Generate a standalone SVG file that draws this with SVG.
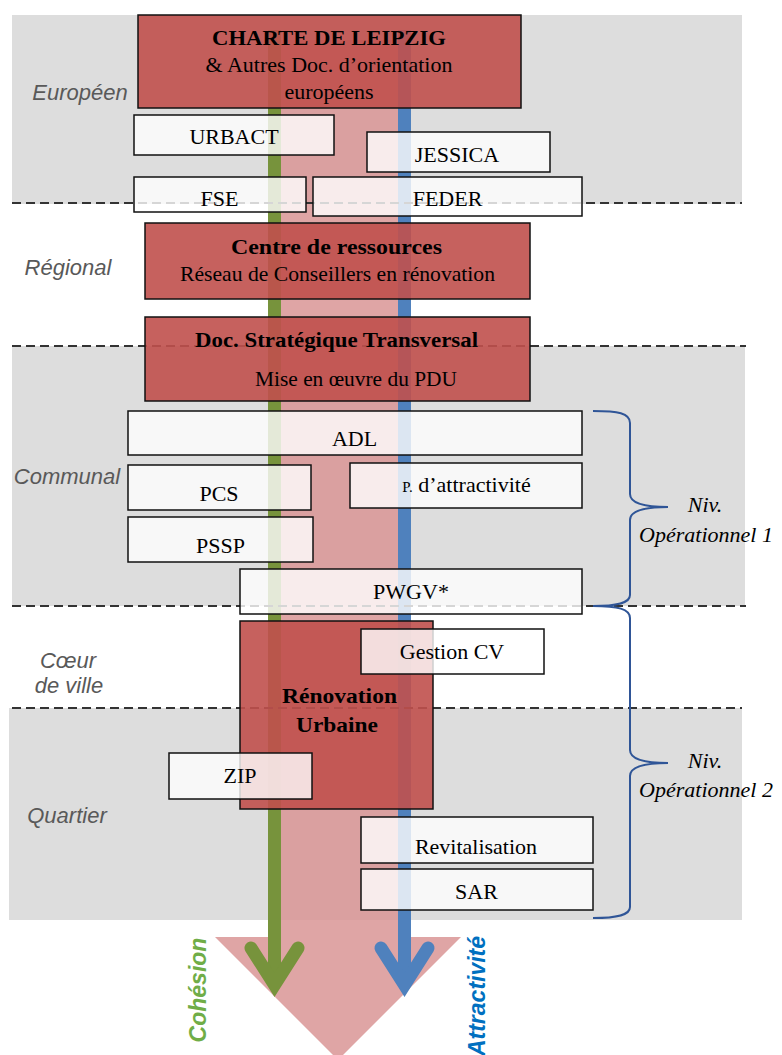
<svg xmlns="http://www.w3.org/2000/svg" width="782" height="1055" viewBox="0 0 782 1055">
<style>
.band{fill:#DDDDDD}
.dash{stroke:#333;stroke-width:2;stroke-dasharray:9 5;fill:none}
.red{fill:#C0504D;fill-opacity:0.9;stroke:#111;stroke-width:1.5}
.wht{fill:#FFFFFF;fill-opacity:0.8;stroke:#111;stroke-width:1.5}
.t{font-family:"Liberation Serif","Times New Roman",serif;font-size:22px;fill:#000;text-anchor:middle}
.b{font-weight:bold}
.lvl{font-family:"Liberation Sans",Arial,sans-serif;font-style:italic;font-size:22px;fill:#595959;text-anchor:middle}
.niv{font-family:"Liberation Serif","Times New Roman",serif;font-style:italic;font-size:22px;fill:#000;text-anchor:middle}
.brace{fill:none;stroke:#2F5597;stroke-width:2}
</style>
<rect width="782" height="1055" fill="#FFFFFF"/>
<g id="bands">
<rect class="band" x="12" y="15" width="730" height="189"/>
<rect class="band" x="12" y="346" width="733" height="260"/>
<rect class="band" x="9" y="708" width="733" height="212"/>
</g>
<g id="flow">
<path d="M274,40 L405,40 L405,937 L461,937 L338,1060 L215,937 L274,937 Z" fill="#D99595" fill-opacity="0.85"/>
<line x1="274.5" y1="30" x2="274.5" y2="985" stroke="#77933C" stroke-width="13"/>
<line x1="404.5" y1="30" x2="404.5" y2="985" stroke="#4F81BD" stroke-width="13"/>
<polyline points="251,948 274.5,985 298,948" fill="none" stroke="#77933C" stroke-width="13" stroke-linecap="round" stroke-linejoin="miter"/>
<polyline points="381,948 404.5,985 428,948" fill="none" stroke="#4F81BD" stroke-width="13" stroke-linecap="round" stroke-linejoin="miter"/>
</g>
<g id="dividers">
<line class="dash" x1="12" y1="203" x2="742" y2="203"/>
<line class="dash" x1="12" y1="346" x2="746" y2="346"/>
<line class="dash" x1="12" y1="606" x2="746" y2="606"/>
<line class="dash" x1="12" y1="708" x2="742" y2="708"/>
</g>
<g id="levels">
<text class="lvl" x="80" y="100">Européen</text>
<text class="lvl" x="68" y="275">Régional</text>
<text class="lvl" x="67" y="484">Communal</text>
<text class="lvl" x="68" y="668">Cœur</text>
<text class="lvl" x="69" y="693">de ville</text>
<text class="lvl" x="67" y="823">Quartier</text>
</g>
<g id="charte"><rect class="red" x="138" y="15" width="383" height="93"/>
<text class="t b" x="329" y="45" textLength="234" lengthAdjust="spacingAndGlyphs">CHARTE DE LEIPZIG</text>
<text class="t" x="329" y="72">&amp; Autres Doc. d’orientation</text>
<text class="t" x="329" y="99">européens</text></g>
<g id="urbact"><rect class="wht" x="134" y="115" width="200" height="40"/><text class="t" x="234" y="144">URBACT</text></g>
<g id="jessica"><rect class="wht" x="367" y="132" width="183" height="40"/><text class="t" x="457" y="162">JESSICA</text></g>
<g id="fse"><rect class="wht" x="134" y="177" width="172" height="35"/><text class="t" x="219.5" y="206">FSE</text></g>
<g id="feder"><rect class="wht" x="313" y="177" width="269" height="39"/><text class="t" x="447.5" y="206">FEDER</text></g>
<g id="centre"><rect class="red" x="145" y="223" width="385" height="76"/>
<text class="t b" x="336.5" y="254" textLength="211" lengthAdjust="spacingAndGlyphs">Centre de ressources</text>
<text class="t" x="337.5" y="281" textLength="315" lengthAdjust="spacingAndGlyphs">Réseau de Conseillers en rénovation</text></g>
<g id="doc"><rect class="red" x="145" y="317" width="385" height="84"/>
<text class="t b" x="336.5" y="347" textLength="283" lengthAdjust="spacingAndGlyphs">Doc. Stratégique Transversal</text>
<text class="t" x="356" y="386" textLength="202" lengthAdjust="spacingAndGlyphs">Mise en œuvre du PDU</text></g>
<g id="adl"><rect class="wht" x="128" y="411" width="454" height="44"/><text class="t" x="354.5" y="446">ADL</text></g>
<g id="pcs"><rect class="wht" x="128" y="465" width="183" height="45"/><text class="t" x="219" y="501">PCS</text></g>
<g id="pattr"><rect class="wht" x="350" y="463" width="232" height="45"/><text class="t" x="466.5" y="492"><tspan font-size="15">P.</tspan> d’attractivité</text></g>
<g id="pssp"><rect class="wht" x="128" y="517" width="185" height="45"/><text class="t" x="220.5" y="553">PSSP</text></g>
<g id="pwgv"><rect class="wht" x="240" y="569" width="342" height="45"/><text class="t" x="411" y="599">PWGV*</text></g>
<g id="renov"><rect class="red" x="240" y="621" width="193" height="188"/>
<text class="t b" x="339.5" y="703" textLength="115" lengthAdjust="spacingAndGlyphs">Rénovation</text>
<text class="t b" x="337" y="732" textLength="82" lengthAdjust="spacingAndGlyphs">Urbaine</text></g>
<g id="gestion"><rect class="wht" x="361" y="629" width="183" height="45"/><text class="t" x="452" y="659">Gestion CV</text></g>
<g id="zip"><rect class="wht" x="169" y="753" width="143" height="46"/><text class="t" x="240" y="783">ZIP</text></g>
<g id="revit"><rect class="wht" x="361" y="817" width="232" height="46"/><text class="t" x="476" y="854">Revitalisation</text></g>
<g id="sar"><rect class="wht" x="361" y="869" width="232" height="41"/><text class="t" x="476.5" y="899">SAR</text></g>
<g id="braces">
<path class="brace" d="M593,411 C618,411 630,413 630,423 L630,494 C630,503 642,507 668,507 C642,507 630,511 630,520 L630,595 C630,603 618,606 593,606"/>
<path class="brace" d="M593,606 C618,606 630,609 630,618 L630,750 C630,759 642,763 668,763 C642,763 630,767 630,776 L630,907 C630,915 618,918 593,918"/>
<text class="niv" x="705" y="512">Niv.</text>
<text class="niv" x="706" y="542">Opérationnel 1</text>
<text class="niv" x="705" y="768">Niv.</text>
<text class="niv" x="706" y="797">Opérationnel 2</text>
</g>
<g id="axes">
<text transform="translate(206,990) rotate(-90)" font-family="'Liberation Sans',Arial,sans-serif" font-weight="bold" font-style="italic" font-size="23" fill="#70AD47" text-anchor="middle">Cohésion</text>
<text transform="translate(485,996) rotate(-90)" font-family="'Liberation Sans',Arial,sans-serif" font-weight="bold" font-style="italic" font-size="23" fill="#0070C0" text-anchor="middle">Attractivité</text>
</g>
</svg>
